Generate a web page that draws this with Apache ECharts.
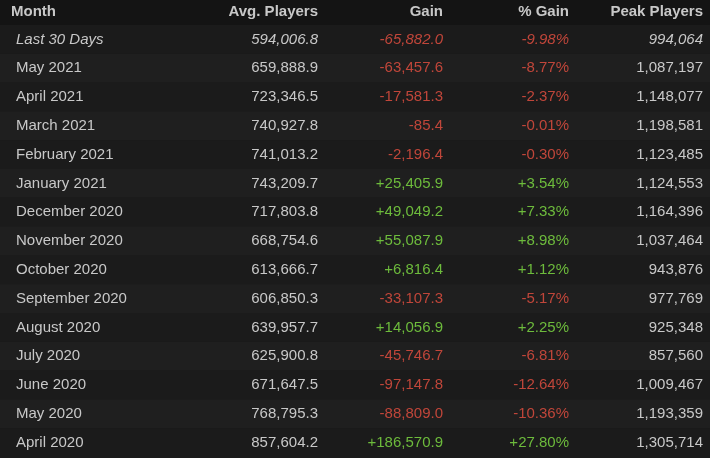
<!DOCTYPE html><html><head><meta charset="utf-8">
<script src="https://cdn.jsdelivr.net/npm/echarts@6/dist/echarts.min.js"></script>
<style>html,body{margin:0;background:#1b1b1b}#c{width:710px;height:458px}</style></head><body><div id="c"></div>
<script>
const headers=["Month","Avg. Players","Gain","% Gain","Peak Players"];
const months=["Last 30 Days","May 2021","April 2021","March 2021","February 2021","January 2021","December 2020","November 2020","October 2020","September 2020","August 2020","July 2020","June 2020","May 2020","April 2020"];
const avgPlayers=["594,006.8","659,888.9","723,346.5","740,927.8","741,013.2","743,209.7","717,803.8","668,754.6","613,666.7","606,850.3","639,957.7","625,900.8","671,647.5","768,795.3","857,604.2"];
const gains=["-65,882.0","-63,457.6","-17,581.3","-85.4","-2,196.4","+25,405.9","+49,049.2","+55,087.9","+6,816.4","-33,107.3","+14,056.9","-45,746.7","-97,147.8","-88,809.0","+186,570.9"];
const pctGains=["-9.98%","-8.77%","-2.37%","-0.01%","-0.30%","+3.54%","+7.33%","+8.98%","+1.12%","-5.17%","+2.25%","-6.81%","-12.64%","-10.36%","+27.80%"];
const peaks=["994,064","1,087,197","1,148,077","1,198,581","1,123,485","1,124,553","1,164,396","1,037,464","943,876","977,769","925,348","857,560","1,009,467","1,193,359","1,305,714"];
(function(){
const chart=echarts.init(document.getElementById('c'));
const F='"Liberation Sans", Arial, sans-serif';
const g=[];
const headH=25,rh=28.8;
g.push({type:'rect',shape:{x:0,y:0,width:710,height:headH},style:{fill:'#141414'}});
months.forEach((m,i)=>{g.push({type:'rect',shape:{x:0,y:headH+i*rh,width:710,height:rh},style:{fill:i%2?'#1f1f1f':'#1b1b1b'}});});
const xs=[11,318,443,569,703],al=['left','right','right','right','right'];
headers.forEach((h,j)=>g.push({type:'text',x:xs[j],y:12,style:{text:h,font:'bold 15px '+F,fill:'#c8c8c8',align:al[j],verticalAlign:'middle'}}));
const red='#c0463a',green='#6dbb3c';
months.forEach((m,i)=>{
 const y=headH+i*rh+rh/2;const it=i===0?'italic ':'';
 const col=gains[i][0]==='+'?green:red;
 const vals=[m,avgPlayers[i],gains[i],pctGains[i],peaks[i]];
 const fills=['#c8c8c8','#c8c8c8',col,col,'#c8c8c8'];
 vals.forEach((v,j)=>g.push({type:'text',x:j===0?16:xs[j],y:y,style:{text:v,font:it+'15px '+F,fill:fills[j],align:al[j],verticalAlign:'middle'}}));
});
chart.setOption({backgroundColor:'#1b1b1b',graphic:g});
})();
</script></body></html>
